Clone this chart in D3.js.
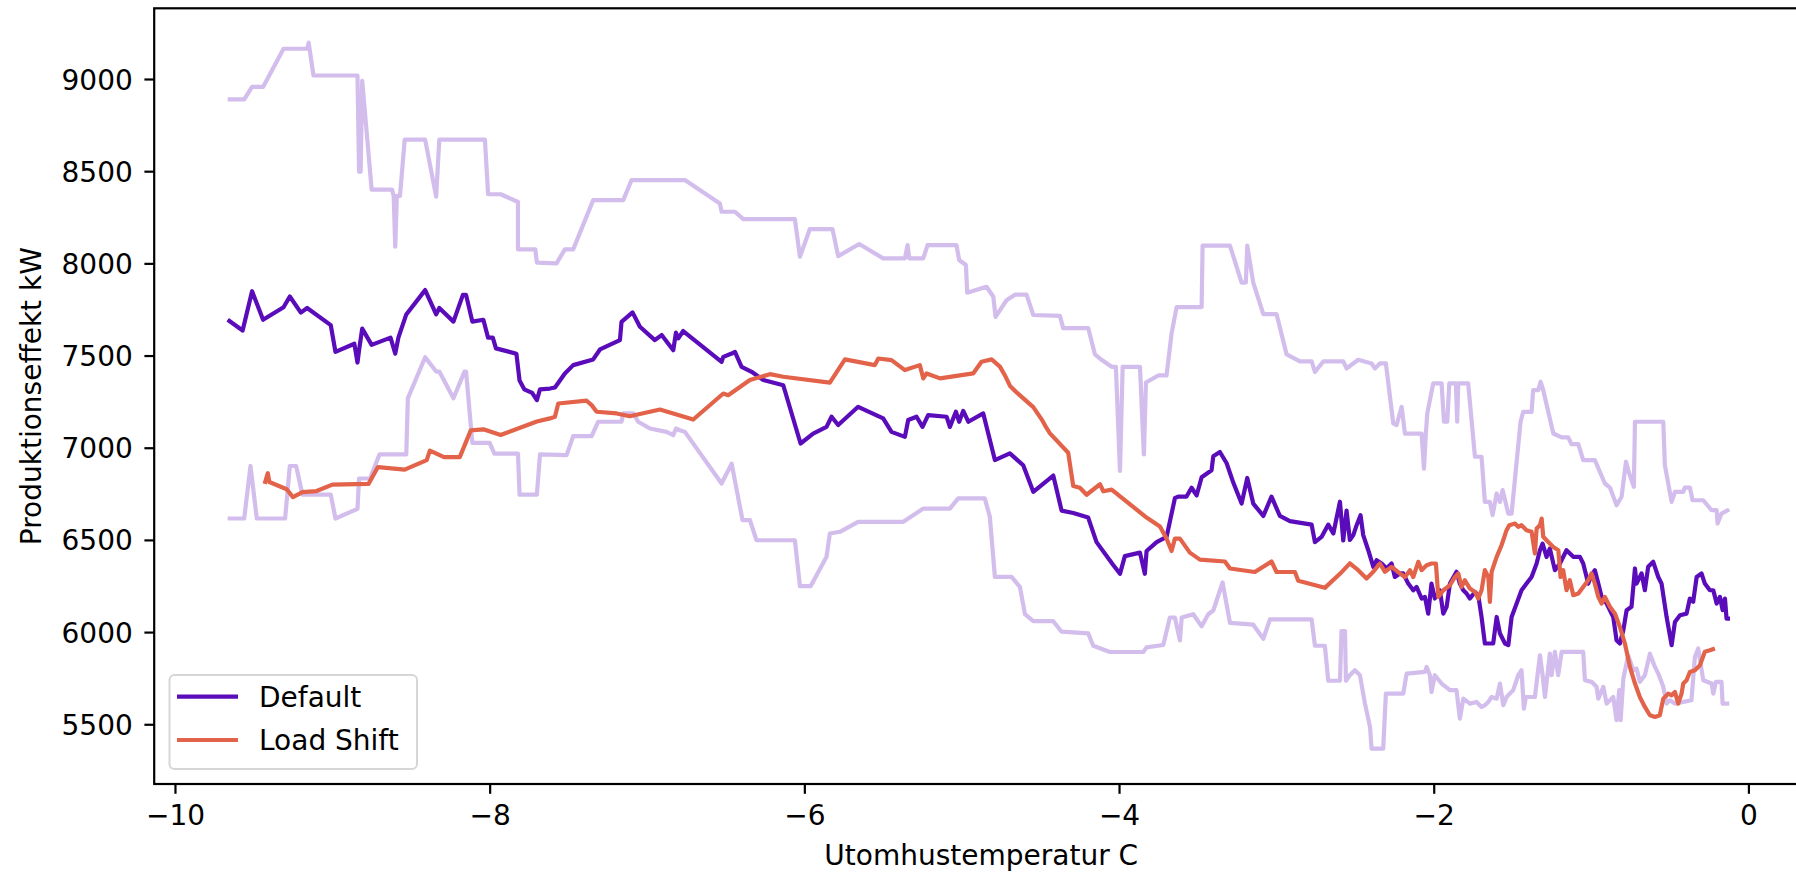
<!DOCTYPE html>
<html>
<head>
<meta charset="utf-8">
<script src="https://cdn.jsdelivr.net/npm/d3@7"></script>
<style>
  html, body { margin: 0; padding: 0; background: #ffffff; }
  svg { display: block; }
  text { font-family: "DejaVu Sans", sans-serif; fill: #000; }
</style>
</head>
<body>
<svg id="chart" width="1796" height="872"></svg>
<script>
// ---------------- data ----------------
const seriesNames = ["Default", "Load Shift"];
const xTicks = [-10, -8, -6, -4, -2, 0];
const yTicks = [5500, 6000, 6500, 7000, 7500, 8000, 8500, 9000];
const xLabel = "Utomhustemperatur C";
const yLabel = "Produktionseffekt kW";

// Default series: [temperature, power]
const defaultSeries = [
[-9.665,7694],[-9.57,7636],[-9.51,7849],[-9.44,7694],[-9.31,7762],[-9.27,7820],[-9.20,7733],[-9.16,7758],
[-9.01,7665],[-8.98,7520],[-8.86,7564],[-8.84,7462],[-8.83,7529],[-8.81,7646],[-8.75,7558],[-8.63,7597],
[-8.60,7510],[-8.58,7597],[-8.53,7723],[-8.41,7855],[-8.34,7723],[-8.32,7758],[-8.23,7684],[-8.17,7829],
[-8.15,7829],[-8.11,7684],[-8.04,7694],[-8.01,7597],[-7.98,7597],[-7.96,7539],[-7.83,7510],[-7.81,7365],
[-7.78,7317],[-7.73,7297],[-7.70,7258],[-7.68,7317],[-7.617,7321],[-7.585,7327],[-7.522,7403],[-7.469,7448],
[-7.342,7479],[-7.299,7533],[-7.172,7584],[-7.162,7683],[-7.092,7734],[-7.045,7656],[-6.950,7584],[-6.907,7611],
[-6.833,7529],[-6.816,7624],[-6.801,7593],[-6.770,7633],[-6.526,7466],[-6.515,7493],[-6.462,7511],[-6.441,7520],
[-6.399,7439],[-6.335,7412],[-6.261,7367],[-6.134,7339],[-6.024,7023],[-5.944,7077],[-5.859,7113],[-5.827,7168],
[-5.785,7123],[-5.658,7222],[-5.499,7159],[-5.446,7086],[-5.361,7059],[-5.340,7150],[-5.287,7168],[-5.249,7113],
[-5.213,7177],[-5.096,7168],[-5.075,7113],[-5.037,7195],[-5.016,7141],[-4.990,7200],[-4.958,7141],[-4.863,7186],
[-4.789,6933],[-4.694,6969],[-4.609,6905],[-4.545,6761],[-4.418,6849],[-4.365,6659],[-4.291,6646],[-4.196,6621],
[-4.143,6488],[-4.037,6364],[-3.994,6316],[-3.963,6412],[-3.867,6431],[-3.836,6316],[-3.825,6440],[-3.761,6488],
[-3.698,6516],[-3.645,6726],[-3.624,6735],[-3.571,6735],[-3.539,6783],[-3.507,6741],[-3.475,6840],[-3.412,6878],
[-3.401,6954],[-3.359,6977],[-3.316,6916],[-3.274,6811],[-3.221,6697],[-3.185,6836],[-3.147,6697],[-3.083,6630],
[-3.031,6735],[-2.978,6630],[-2.914,6602],[-2.776,6583],[-2.755,6488],[-2.713,6516],[-2.670,6583],[-2.638,6535],
[-2.596,6707],[-2.575,6497],[-2.554,6659],[-2.533,6500],[-2.511,6526],[-2.490,6580],[-2.465,6634],[-2.448,6526],
[-2.416,6444],[-2.384,6354],[-2.363,6390],[-2.331,6372],[-2.300,6345],[-2.268,6372],[-2.247,6299],[-2.215,6318],
[-2.194,6318],[-2.162,6263],[-2.130,6227],[-2.109,6245],[-2.077,6182],[-2.056,6191],[-2.035,6100],[-2.014,6263],
[-1.993,6182],[-1.961,6227],[-1.939,6100],[-1.918,6137],[-1.897,6263],[-1.855,6327],[-1.834,6263],[-1.812,6227],
[-1.791,6209],[-1.770,6182],[-1.738,6218],[-1.717,6200],[-1.696,6082],[-1.675,5938],[-1.622,5938],[-1.600,6082],
[-1.579,5992],[-1.547,5938],[-1.526,5929],[-1.505,6082],[-1.473,6155],[-1.442,6227],[-1.410,6263],[-1.378,6299],
[-1.346,6372],[-1.325,6444],[-1.308,6480],[-1.283,6408],[-1.262,6453],[-1.230,6336],[-1.198,6372],[-1.156,6444],
[-1.113,6408],[-1.071,6408],[-1.050,6372],[-1.018,6263],[-0.997,6309],[-0.976,6336],[-0.954,6263],[-0.933,6191],
[-0.901,6155],[-0.859,6082],[-0.838,5956],[-0.817,5938],[-0.795,6010],[-0.774,6119],[-0.743,6137],[-0.721,6345],
[-0.711,6263],[-0.679,6318],[-0.658,6227],[-0.637,6354],[-0.605,6381],[-0.573,6299],[-0.552,6263],[-0.520,6082],
[-0.488,5929],[-0.467,6055],[-0.435,6091],[-0.393,6100],[-0.372,6182],[-0.351,6164],[-0.329,6299],[-0.298,6318],
[-0.277,6263],[-0.245,6227],[-0.223,6227],[-0.202,6155],[-0.181,6191],[-0.164,6119],[-0.149,6182],[-0.139,6073],
[-0.117,6073]
];

// Load Shift series: [temperature, power]
const loadShiftSeries = [
[-9.43,6804],[-9.41,6862],[-9.40,6814],[-9.29,6775],[-9.25,6732],[-9.19,6759],[-9.10,6765],[-9.00,6800],
[-8.77,6804],[-8.71,6895],[-8.54,6881],[-8.40,6933],[-8.38,6984],[-8.29,6949],[-8.19,6949],[-8.12,7094],
[-8.04,7100],[-7.93,7069],[-7.70,7142],[-7.617,7159],[-7.585,7168],[-7.564,7240],[-7.384,7255],[-7.352,7231],
[-7.320,7195],[-7.193,7186],[-7.109,7171],[-6.918,7207],[-6.706,7153],[-6.515,7294],[-6.484,7285],[-6.346,7367],
[-6.219,7399],[-6.134,7385],[-5.838,7353],[-5.742,7479],[-5.552,7448],[-5.530,7484],[-5.446,7475],[-5.361,7421],
[-5.266,7448],[-5.244,7376],[-5.223,7403],[-5.138,7376],[-4.927,7403],[-4.874,7466],[-4.810,7479],[-4.757,7440],
[-4.725,7392],[-4.693,7335],[-4.651,7300],[-4.545,7220],[-4.492,7154],[-4.460,7106],[-4.439,7078],[-4.323,6973],
[-4.291,6792],[-4.249,6783],[-4.206,6745],[-4.121,6802],[-4.100,6764],[-4.047,6773],[-3.825,6621],[-3.740,6573],
[-3.698,6507],[-3.666,6440],[-3.645,6507],[-3.613,6507],[-3.550,6431],[-3.486,6393],[-3.327,6383],[-3.295,6345],
[-3.137,6326],[-3.031,6383],[-2.999,6326],[-2.882,6326],[-2.861,6278],[-2.692,6240],[-2.596,6316],[-2.533,6373],
[-2.480,6336],[-2.427,6291],[-2.384,6327],[-2.342,6372],[-2.310,6327],[-2.268,6354],[-2.215,6318],[-2.183,6299],
[-2.151,6336],[-2.130,6299],[-2.098,6381],[-2.077,6336],[-2.045,6363],[-2.014,6372],[-1.986,6372],[-1.971,6191],
[-1.939,6227],[-1.897,6254],[-1.865,6299],[-1.844,6318],[-1.823,6245],[-1.802,6281],[-1.770,6236],[-1.738,6218],
[-1.717,6182],[-1.696,6227],[-1.675,6336],[-1.653,6299],[-1.643,6164],[-1.632,6327],[-1.600,6408],[-1.569,6471],
[-1.537,6553],[-1.520,6580],[-1.484,6589],[-1.463,6571],[-1.442,6580],[-1.410,6553],[-1.378,6544],[-1.357,6426],
[-1.346,6562],[-1.325,6580],[-1.314,6616],[-1.304,6517],[-1.272,6489],[-1.240,6462],[-1.208,6444],[-1.194,6299],
[-1.177,6336],[-1.156,6227],[-1.135,6281],[-1.113,6200],[-1.081,6209],[-1.050,6245],[-1.018,6281],[-0.997,6318],
[-0.976,6263],[-0.954,6191],[-0.933,6155],[-0.912,6191],[-0.880,6137],[-0.848,6100],[-0.817,6028],[-0.785,5938],
[-0.753,5811],[-0.721,5721],[-0.690,5648],[-0.658,5594],[-0.626,5549],[-0.594,5540],[-0.563,5549],[-0.541,5639],
[-0.510,5666],[-0.488,5657],[-0.467,5675],[-0.446,5612],[-0.425,5666],[-0.414,5721],[-0.393,5739],[-0.372,5784],
[-0.340,5793],[-0.308,5820],[-0.277,5893],[-0.245,5901],[-0.213,5911]
];

// Upper envelope of Default (light band)
const upperBand = [
[-9.665,8890],[-9.56,8890],[-9.51,8957],[-9.44,8957],[-9.31,9164],[-9.16,9164],[-9.15,9197],[-9.12,9019],
[-8.84,9019],[-8.83,8497],[-8.82,8497],[-8.81,8990],[-8.75,8400],[-8.62,8400],[-8.61,8366],[-8.60,8091],
[-8.59,8366],[-8.57,8366],[-8.54,8671],[-8.41,8671],[-8.34,8362],[-8.32,8671],[-8.03,8671],[-8.01,8375],
[-7.93,8375],[-7.82,8333],[-7.82,8076],[-7.71,8076],[-7.70,8004],[-7.575,8000],[-7.522,8076],[-7.469,8076],
[-7.342,8343],[-7.151,8343],[-7.098,8452],[-6.759,8452],[-6.537,8325],[-6.526,8280],[-6.441,8280],[-6.388,8240],
[-6.060,8240],[-6.028,8036],[-5.965,8186],[-5.821,8186],[-5.785,8039],[-5.651,8105],[-5.499,8027],[-5.361,8027],
[-5.344,8099],[-5.333,8027],[-5.244,8027],[-5.217,8099],[-5.033,8099],[-5.016,8018],[-4.973,7991],[-4.965,7841],
[-4.842,7873],[-4.799,7819],[-4.785,7710],[-4.715,7800],[-4.662,7830],[-4.588,7830],[-4.545,7720],[-4.376,7715],
[-4.355,7649],[-4.196,7649],[-4.153,7506],[-4.111,7477],[-4.047,7439],[-4.020,7439],[-3.994,6874],[-3.977,7439],
[-3.867,7439],[-3.842,6964],[-3.829,7354],[-3.751,7392],[-3.698,7392],[-3.666,7620],[-3.634,7763],[-3.475,7763],
[-3.469,8096],[-3.295,8096],[-3.221,7896],[-3.194,7896],[-3.185,8096],[-3.147,7896],[-3.083,7725],[-2.999,7725],
[-2.935,7506],[-2.850,7468],[-2.776,7468],[-2.755,7411],[-2.702,7468],[-2.575,7468],[-2.554,7430],[-2.480,7477],
[-2.395,7457],[-2.374,7430],[-2.342,7457],[-2.304,7457],[-2.257,7132],[-2.236,7123],[-2.204,7222],[-2.183,7077],
[-2.077,7077],[-2.062,6887],[-2.050,7077],[-2.041,7186],[-2.003,7349],[-1.950,7349],[-1.935,7141],[-1.914,7141],
[-1.901,7349],[-1.859,7349],[-1.851,7141],[-1.844,7349],[-1.781,7349],[-1.738,6951],[-1.696,6951],[-1.675,6706],
[-1.643,6706],[-1.626,6634],[-1.600,6752],[-1.579,6706],[-1.562,6770],[-1.526,6643],[-1.505,6643],[-1.473,6924],
[-1.448,7141],[-1.431,7195],[-1.378,7195],[-1.368,7312],[-1.336,7312],[-1.321,7358],[-1.304,7312],[-1.272,7195],
[-1.240,7077],[-1.187,7056],[-1.145,7056],[-1.124,7019],[-1.081,7019],[-1.050,6933],[-0.976,6933],[-0.912,6806],
[-0.880,6784],[-0.838,6688],[-0.806,6734],[-0.778,6924],[-0.764,6878],[-0.728,6788],[-0.721,7141],[-0.541,7141],
[-0.531,6905],[-0.488,6706],[-0.467,6761],[-0.414,6761],[-0.404,6784],[-0.372,6784],[-0.355,6715],[-0.287,6715],
[-0.234,6661],[-0.202,6661],[-0.196,6589],[-0.171,6643],[-0.122,6665]
];

// Lower envelope of Default (light band)
const lowerBand = [
[-9.665,6616],[-9.56,6616],[-9.52,6901],[-9.48,6616],[-9.30,6616],[-9.27,6901],[-9.23,6901],[-9.19,6746],
[-9.01,6746],[-8.98,6616],[-8.84,6668],[-8.83,6833],[-8.76,6833],[-8.70,6964],[-8.53,6964],[-8.52,7268],
[-8.41,7491],[-8.34,7413],[-8.32,7413],[-8.23,7268],[-8.16,7413],[-8.15,7413],[-8.11,7026],[-8.00,7026],
[-7.97,6968],[-7.82,6968],[-7.81,6746],[-7.70,6746],[-7.68,6964],[-7.511,6960],[-7.469,7063],[-7.352,7063],
[-7.310,7141],[-7.162,7141],[-7.151,7186],[-7.087,7186],[-7.056,7141],[-6.981,7104],[-6.876,7086],[-6.833,7068],
[-6.816,7104],[-6.791,7095],[-6.759,7086],[-6.526,6806],[-6.462,6914],[-6.393,6607],[-6.346,6607],[-6.304,6498],
[-6.060,6498],[-6.028,6249],[-5.960,6249],[-5.859,6408],[-5.838,6535],[-5.774,6544],[-5.658,6598],[-5.371,6598],
[-5.244,6670],[-5.075,6670],[-5.022,6725],[-4.853,6725],[-4.821,6625],[-4.789,6299],[-4.683,6299],[-4.630,6245],
[-4.598,6097],[-4.545,6059],[-4.418,6059],[-4.365,6002],[-4.196,5993],[-4.164,5926],[-4.058,5892],[-3.846,5892],
[-3.825,5917],[-3.719,5930],[-3.677,6079],[-3.645,6079],[-3.613,5955],[-3.602,6079],[-3.528,6097],[-3.475,6031],
[-3.433,6097],[-3.401,6117],[-3.342,6269],[-3.295,6050],[-3.147,6040],[-3.083,5964],[-3.041,6069],[-2.776,6069],
[-2.755,5926],[-2.692,5926],[-2.670,5736],[-2.596,5736],[-2.586,6006],[-2.564,6006],[-2.558,5736],[-2.533,5766],
[-2.501,5793],[-2.469,5766],[-2.437,5612],[-2.405,5486],[-2.395,5368],[-2.321,5368],[-2.304,5666],[-2.194,5666],
[-2.172,5775],[-2.056,5784],[-2.045,5811],[-2.024,5766],[-2.014,5675],[-1.993,5766],[-1.950,5721],[-1.897,5685],
[-1.855,5685],[-1.834,5531],[-1.812,5639],[-1.770,5612],[-1.728,5621],[-1.696,5594],[-1.675,5603],[-1.653,5621],
[-1.632,5648],[-1.600,5639],[-1.579,5721],[-1.558,5603],[-1.537,5648],[-1.495,5685],[-1.463,5766],[-1.442,5793],
[-1.427,5585],[-1.414,5648],[-1.357,5648],[-1.325,5874],[-1.308,5766],[-1.293,5648],[-1.262,5883],[-1.251,5766],
[-1.230,5893],[-1.209,5766],[-1.187,5893],[-1.050,5893],[-1.039,5739],[-0.997,5730],[-0.965,5703],[-0.954,5639],
[-0.922,5703],[-0.901,5612],[-0.859,5648],[-0.838,5522],[-0.821,5685],[-0.812,5522],[-0.795,5748],[-0.764,5874],
[-0.732,5793],[-0.711,5802],[-0.690,5730],[-0.658,5766],[-0.626,5883],[-0.594,5811],[-0.573,5775],[-0.541,5703],
[-0.520,5612],[-0.499,5630],[-0.467,5612],[-0.362,5630],[-0.340,5865],[-0.319,5911],[-0.287,5739],[-0.234,5721],
[-0.223,5666],[-0.207,5730],[-0.171,5730],[-0.164,5612],[-0.122,5612]
];

const xDomain = [-10.132, 0.38];
const yDomain = [5176, 9383.5];

// ---------------- drawing ----------------
const W = 1796, H = 872;
const plot = { left: 154.2, top: 8.3, right: 1808.2, bottom: 784 };
const fontSize = 28;
const purple = "#5a0cba";
const orange = "#e3634a";
const lw = 4.2;

const svg = d3.select("#chart");
svg.append("rect").attr("width", W).attr("height", H).attr("fill", "#fff");

const x = d3.scaleLinear().domain(xDomain).range([plot.left, plot.right]);
const y = d3.scaleLinear().domain(yDomain).range([plot.bottom, plot.top]);

svg.append("defs").append("clipPath").attr("id", "clip")
  .append("rect").attr("x", plot.left).attr("y", plot.top)
  .attr("width", plot.right - plot.left).attr("height", plot.bottom - plot.top);

const line = d3.line().x(d => x(d[0])).y(d => y(d[1]));
const g = svg.append("g").attr("clip-path", "url(#clip)");

g.append("path").datum(upperBand).attr("d", line)
  .attr("fill", "none").attr("stroke", purple).attr("stroke-opacity", 0.27)
  .attr("stroke-width", lw).attr("stroke-linejoin", "round");
g.append("path").datum(lowerBand).attr("d", line)
  .attr("fill", "none").attr("stroke", purple).attr("stroke-opacity", 0.27)
  .attr("stroke-width", lw).attr("stroke-linejoin", "round");
g.append("path").datum(defaultSeries).attr("d", line)
  .attr("fill", "none").attr("stroke", purple)
  .attr("stroke-width", lw).attr("stroke-linejoin", "round");
g.append("path").datum(loadShiftSeries).attr("d", line)
  .attr("fill", "none").attr("stroke", orange)
  .attr("stroke-width", lw).attr("stroke-linejoin", "round");

// axes
const tickLen = 9.8, tickPad = 9.6, spineW = 2.2;
const fmt = d3.format("");

const xAxis = d3.axisBottom(x).tickValues(xTicks).tickFormat(fmt)
  .tickSizeInner(tickLen).tickSizeOuter(0).tickPadding(tickPad);
const gx = svg.append("g").attr("transform", `translate(0,${plot.bottom})`).call(xAxis);
gx.select(".domain").remove();
gx.selectAll(".tick line").attr("stroke", "#000").attr("stroke-width", spineW);
gx.selectAll(".tick text").attr("font-size", fontSize).attr("font-family", "DejaVu Sans")
  .attr("fill", "#000").attr("dy", null).attr("y", tickLen + tickPad + 21.5);

const yAxis = d3.axisLeft(y).tickValues(yTicks).tickFormat(fmt)
  .tickSizeInner(tickLen).tickSizeOuter(0).tickPadding(tickPad);
const gy = svg.append("g").attr("transform", `translate(${plot.left},0)`).call(yAxis);
gy.select(".domain").remove();
gy.selectAll(".tick line").attr("stroke", "#000").attr("stroke-width", spineW);
gy.selectAll(".tick text").attr("font-size", fontSize).attr("font-family", "DejaVu Sans")
  .attr("fill", "#000").attr("dy", "0.36em").attr("x", -(tickLen + tickPad + 2));

// spines
svg.append("rect").attr("x", plot.left).attr("y", plot.top)
  .attr("width", plot.right - plot.left).attr("height", plot.bottom - plot.top)
  .attr("fill", "none").attr("stroke", "#000").attr("stroke-width", spineW);

// axis labels
svg.append("text").attr("x", (plot.left + plot.right) / 2).attr("y", 865)
  .attr("text-anchor", "middle").attr("font-size", fontSize).text(xLabel);
svg.append("text").attr("transform", `translate(41,${(plot.top + plot.bottom) / 2}) rotate(-90)`)
  .attr("text-anchor", "middle").attr("font-size", fontSize).text(yLabel);

// legend
const leg = svg.append("g");
leg.append("rect").attr("x", 169.5).attr("y", 675).attr("width", 247.5).attr("height", 94)
  .attr("rx", 5).attr("fill", "#fff").attr("fill-opacity", 0.8)
  .attr("stroke", "#cccccc").attr("stroke-opacity", 0.8).attr("stroke-width", 2);
const legendItems = [
  { name: seriesNames[0], color: purple, y: 696.7 },
  { name: seriesNames[1], color: orange, y: 740 }
];
legendItems.forEach(it => {
  leg.append("line").attr("x1", 177).attr("x2", 238).attr("y1", it.y).attr("y2", it.y)
    .attr("stroke", it.color).attr("stroke-width", lw);
  leg.append("text").attr("x", 259).attr("y", it.y).attr("dy", "0.36em")
    .attr("font-size", fontSize).text(it.name);
});
</script>
</body>
</html>
